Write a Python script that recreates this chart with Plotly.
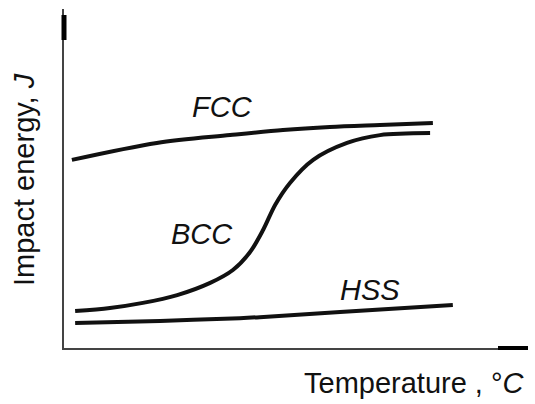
import plotly.graph_objects as go

# Schematic data (arbitrary units, 0-100 on both axes)
fcc_x = [1.7, 20.0, 35.8, 47.2, 57.3, 68.1, 79.5]
fcc_y = [55.5, 60.5, 62.8, 64.3, 65.2, 65.8, 66.4]

bcc_x = [2.4, 9.9, 17.0, 24.4, 31.5, 36.4, 40.1, 42.9, 45.5, 48.7, 53.7, 61.0, 68.1, 78.9]
bcc_y = [10.9, 11.8, 13.3, 15.6, 19.2, 23.0, 28.3, 34.8, 42.2, 48.7, 55.5, 60.5, 62.8, 63.4]

hss_x = [2.4, 20.7, 37.9, 42.2, 59.5, 83.8]
hss_y = [7.4, 8.0, 8.8, 9.1, 10.6, 12.7]

labels = ["FCC", "BCC", "HSS"]
label_x = [34.1, 29.7, 65.9]
label_y = [71.1, 33.6, 17.1]

x_title = "Temperature , °<i>C</i>"
y_title = "Impact energy, <i>J</i>"

FONT = "Liberation Sans, Arial, sans-serif"
FS = 29

fig = go.Figure()
for xs, ys in [(fcc_x, fcc_y), (bcc_x, bcc_y), (hss_x, hss_y)]:
    fig.add_trace(go.Scatter(x=xs, y=ys, mode="lines",
                             line=dict(color="#111111", width=4, shape="spline", smoothing=0.9),
                             showlegend=False, hoverinfo="skip"))

fig.update_layout(
    width=535, height=404,
    margin=dict(l=64, r=7, t=9, b=56),
    paper_bgcolor="white", plot_bgcolor="white",
    xaxis=dict(range=[0, 100], showgrid=False, zeroline=False, showticklabels=False, ticks="",
               showline=True, linecolor="#444444", linewidth=2),
    yaxis=dict(range=[0, 100], showgrid=False, zeroline=False, showticklabels=False, ticks="",
               showline=True, linecolor="#444444", linewidth=1.5),
)

for t, lx, ly in zip(labels, label_x, label_y):
    fig.add_annotation(x=lx, y=ly, xref="x", yref="y", text="<i>%s</i>" % t,
                       showarrow=False, font=dict(family=FONT, size=FS, color="#111111"),
                       xanchor="center", yanchor="middle")

# axis titles placed in paper coordinates
fig.add_annotation(x=(414 - 64) / 464, y=(348 - 383) / 339, xref="paper", yref="paper",
                   text=x_title, showarrow=False,
                   font=dict(family=FONT, size=FS, color="#111111"), xanchor="center", yanchor="middle")
fig.add_annotation(x=(24 - 64) / 464, y=(348 - 180) / 339, xref="paper", yref="paper",
                   text=y_title, showarrow=False, textangle=-90,
                   font=dict(family=FONT, size=FS, color="#111111"), xanchor="center", yanchor="middle")

# thick end marks on the axes
fig.add_shape(type="line", xref="paper", yref="paper", x0=0, x1=0,
              y0=(348 - 15) / 339, y1=(348 - 40) / 339, line=dict(color="black", width=5))
fig.add_shape(type="line", xref="paper", yref="paper", x0=(498 - 64) / 464, x1=1.0,
              y0=0, y1=0, line=dict(color="black", width=4))

fig.write_html("out.html")
